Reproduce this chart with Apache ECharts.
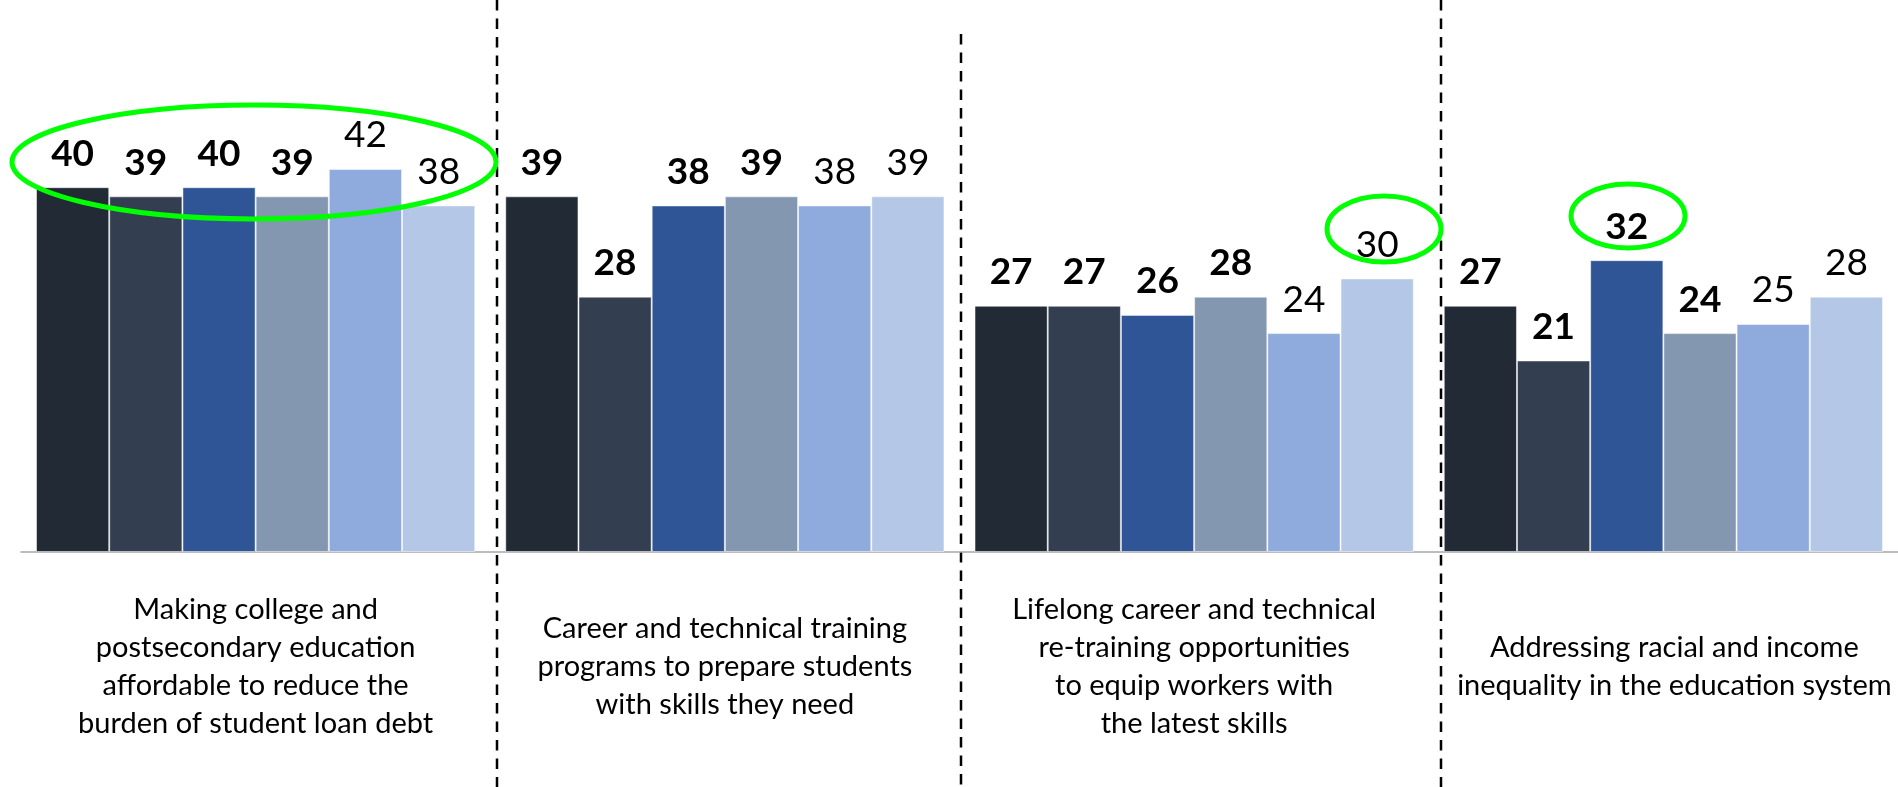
<!DOCTYPE html>
<html>
<head>
<meta charset="utf-8">
<script src="https://cdn.jsdelivr.net/npm/echarts@6/dist/echarts.min.js"></script>
<style>
  html, body { margin: 0; padding: 0; background: #fff; }
  #chart { width: 1898px; height: 787px; }
</style>
</head>
<body>
<div id="chart"></div>
<script>
// categories (issue areas)
const categories = [
  "Making college and\npostsecondary education\naffordable to reduce the\nburden of student loan debt",
  "Career and technical training\nprograms to prepare students\nwith skills they need",
  "Lifelong career and technical\nre-training opportunities\nto equip workers with\nthe latest skills",
  "Addressing racial and income\ninequality in the education system"
];

// six series, one value per category
const series1 = [40, 39, 27, 27];
const series2 = [39, 28, 27, 21];
const series3 = [40, 38, 26, 32];
const series4 = [39, 39, 28, 24];
const series5 = [42, 38, 24, 25];
const series6 = [38, 39, 30, 28];

const seriesNames = ["Series 1", "Series 2", "Series 3", "Series 4", "Series 5", "Series 6"];
const seriesData = [series1, series2, series3, series4, series5, series6];
const colors = ["#222a35", "#333f50", "#2f5597", "#8497b0", "#8faadc", "#b4c7e7"];
const boldLabels = [true, true, true, true, false, false];

const chart = echarts.init(document.getElementById("chart"));

const dashed = { stroke: "#000", lineWidth: 2.5, lineDash: [10.5, 8] };
const highlight = { fill: "none", stroke: "#00ff00", lineWidth: 5 };

const catLabel = {
  color: "#000",
  fontFamily: "Lato",
  fontSize: 29,
  lineHeight: 38,
  align: "center",
  verticalAlign: "middle"
};

// last label sits a little right of its slot in the original
const catItems = categories.map((c, i) =>
  i === 3 ? { value: c, textStyle: Object.assign({}, catLabel, { padding: [0, 0, 0, 22] }) } : c
);

const option = {
  animation: false,
  textStyle: { fontFamily: "Lato" },
  grid: { left: 21, right: -8, top: 96, bottom: 235 },
  xAxis: {
    type: "category",
    data: catItems,
    axisLine: { lineStyle: { color: "#a6a6a6", width: 1.5 } },
    axisTick: { length: 8, lineStyle: { color: "#a6a6a6" } },
    axisLabel: Object.assign({ interval: 0, margin: 115 }, catLabel)
  },
  yAxis: {
    type: "value",
    min: 0,
    max: 50,
    show: false,
    splitLine: { show: false }
  },
  series: seriesData.map((d, i) => ({
    name: seriesNames[i],
    type: "bar",
    data: d,
    barGap: "0%",
    barCategoryGap: "6.4%",
    itemStyle: {
      color: colors[i],
      borderColor: "rgba(255,255,255,0.5)",
      borderWidth: 1
    },
    label: {
      show: true,
      position: "top",
      distance: 15,
      color: "#000",
      fontFamily: "Lato",
      fontSize: 37,
      lineHeight: 37,
      fontWeight: boldLabels[i] ? "bold" : "normal"
    }
  })),
  graphic: [
    { type: "line", shape: { x1: 497, y1: 0, x2: 497, y2: 787 }, style: dashed },
    { type: "line", shape: { x1: 961, y1: 34, x2: 961, y2: 787 }, style: dashed },
    { type: "line", shape: { x1: 1441, y1: 0, x2: 1441, y2: 787 }, style: dashed },
    { type: "ellipse", shape: { cx: 254, cy: 162, rx: 242, ry: 57 }, style: highlight, z: 100 },
    { type: "ellipse", shape: { cx: 1384, cy: 229, rx: 57, ry: 33 }, style: highlight, z: 100 },
    { type: "ellipse", shape: { cx: 1628, cy: 216, rx: 57, ry: 32 }, style: highlight, z: 100 }
  ]
};

chart.setOption(option);
</script>
</body>
</html>
